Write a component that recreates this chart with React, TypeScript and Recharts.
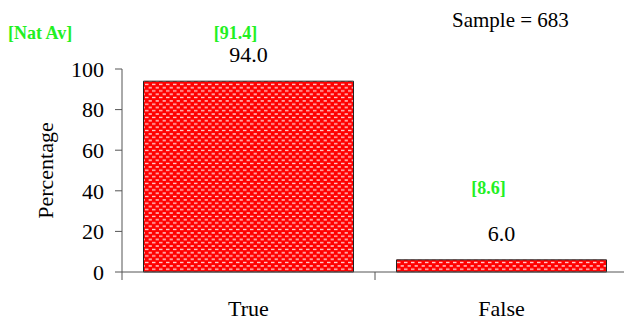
import React from 'react';
import { BarChart, Bar, XAxis, YAxis, LabelList, Customized } from 'recharts';

const categories = ['True', 'False'];
const percentages = [94.0, 6.0];
const natAverages = [91.4, 8.6];
const yTicks = [0, 20, 40, 60, 80, 100];
const sampleSize = 683;
const natAvTitle = '[Nat Av]';

const data = categories.map((c, i) => ({ name: c, value: percentages[i], nat: natAverages[i] }));

const SERIF = '"Liberation Serif", "Times New Roman", serif';
const GREEN = '#22f022';
const AXIS = '#555555';
const natOffsets = [42, 66];

const CategoryTick = (props: any) => {
  const { x, y, payload } = props;
  const half = payload && payload.offset != null ? payload.offset : 0;
  return (
    <g>
      <line x1={x - half} x2={x - half} y1={y} y2={y + 8} stroke={AXIS} strokeWidth={1} />
      <text x={x} y={y + 44} textAnchor="middle" fontFamily={SERIF} fontSize={22} fill="#000">
        {payload.value}
      </text>
    </g>
  );
};

const ValueLabel = (props: any) => {
  const { x, y, width, value } = props;
  return (
    <text x={x + width / 2} y={y - 19} textAnchor="middle" fontFamily={SERIF} fontSize={22} fill="#000">
      {Number(value).toFixed(1)}
    </text>
  );
};

const NatLabel = (props: any) => {
  const { x, y, width, value, index } = props;
  return (
    <text
      x={x + width / 2 - 13}
      y={y - natOffsets[index]}
      textAnchor="middle"
      fontFamily={SERIF}
      fontSize={18}
      fontWeight="bold"
      fill={GREEN}
    >
      {`[${value}]`}
    </text>
  );
};

const Annotations = () => (
  <g>
    <text x={8} y={38.5} fontFamily={SERIF} fontSize={18} fontWeight="bold" fill={GREEN}>
      {natAvTitle}
    </text>
    <text x={452} y={27} fontFamily={SERIF} fontSize={21} fill="#000">
      {`Sample = ${sampleSize}`}
    </text>
  </g>
);

export default function App() {
  return (
    <div style={{ position: 'absolute', left: 0, top: 0, width: 624, height: 320, overflow: 'hidden', background: '#fff' }}>
      <svg width={0} height={0} style={{ position: 'absolute' }}>
        <defs>
          <pattern id="redDots" patternUnits="userSpaceOnUse" width={7} height={6.6}>
            <rect x={0} y={0} width={7} height={6.6} fill="#ff0000" />
            <rect x={1.5} y={1.2} width={3.5} height={1.3} rx={0.5} fill="#ffd6d6" />
            <rect x={5} y={4.5} width={2} height={1.3} fill="#ffd6d6" />
            <rect x={0} y={4.5} width={1.5} height={1.3} fill="#ffd6d6" />
          </pattern>
        </defs>
      </svg>
      <BarChart
        width={640}
        height={320}
        data={data}
        margin={{ top: 69, right: 12, bottom: 0, left: 0 }}
        barCategoryGap="8.5%"
      >
        <XAxis
          dataKey="name"
          interval={0}
          height={48}
          tickLine={false}
          tickSize={0}
          tickMargin={0}
          axisLine={{ stroke: AXIS }}
          tick={<CategoryTick />}
        />
        <YAxis
          type="number"
          domain={[0, 100]}
          ticks={yTicks}
          interval={0}
          width={122}
          tickSize={7}
          tickMargin={11}
          axisLine={{ stroke: AXIS }}
          tickLine={{ stroke: AXIS }}
          tick={{ fill: '#000', fontSize: 22, fontFamily: SERIF }}
          label={{ value: 'Percentage', angle: -90, position: 'center', dx: -16, fill: '#000', fontSize: 22, fontFamily: SERIF }}
        />
        <Bar dataKey="value" fill="url(#redDots)" stroke="#222" strokeWidth={1} isAnimationActive={false}>
          <LabelList dataKey="value" content={<ValueLabel />} />
          <LabelList dataKey="nat" content={<NatLabel />} />
        </Bar>
        <Customized component={Annotations} />
      </BarChart>
    </div>
  );
}
